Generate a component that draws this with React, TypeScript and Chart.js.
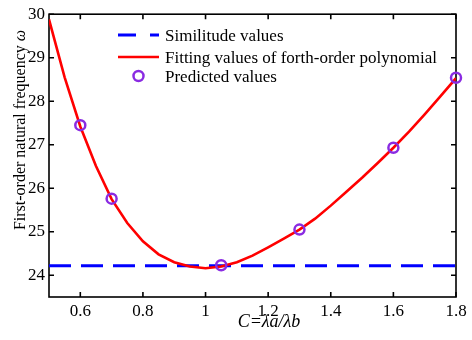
import React, { useEffect, useRef } from "react";
import { Chart, registerables } from "chart.js";

Chart.register(...registerables);

const fitX = [0.5, 0.55, 0.6, 0.65, 0.7, 0.75, 0.8, 0.85, 0.9, 0.95, 1.0, 1.05, 1.1, 1.15, 1.2, 1.25, 1.3, 1.35, 1.4, 1.45, 1.5, 1.55, 1.6, 1.65, 1.7, 1.75, 1.8];
const fitY = [29.88, 28.55, 27.42, 26.51, 25.75, 25.2, 24.78, 24.48, 24.3, 24.2, 24.16, 24.2, 24.3, 24.45, 24.64, 24.84, 25.05, 25.3, 25.6, 25.92, 26.24, 26.58, 26.93, 27.3, 27.7, 28.11, 28.53];
const predX = [0.6, 0.7, 1.05, 1.3, 1.6, 1.8];
const predY = [27.45, 25.76, 24.23, 25.05, 26.93, 28.54];
const simX = [0.5, 1.8];
const simY = [24.22, 24.22];
const xTicks = [0.6, 0.8, 1.0, 1.2, 1.4, 1.6, 1.8];
const yTicks = [24, 25, 26, 27, 28, 29, 30];
const legendLabels = ["Similitude values", "Fitting values of forth-order polynomial", "Predicted values"];
const xTitle = "C=λa/λb";
const yTitleMain = "First-order natural frequency ";
const yTitleSym = "ω";

const FONT = "'Liberation Serif', 'Times New Roman', serif";
const BLUE = "#0000ff";
const RED = "#ff0000";
const PURPLE = "#8a2be2";

const framePlugin = {
  id: "frame",
  beforeDatasetsDraw(chart: any) {
    const { ctx, chartArea } = chart;
    const xs = chart.scales.x;
    const ys = chart.scales.y;
    ctx.save();
    ctx.strokeStyle = "#000";
    ctx.lineWidth = 1.6;
    ctx.strokeRect(chartArea.left, chartArea.top, chartArea.right - chartArea.left, chartArea.bottom - chartArea.top);
    const tl = 5;
    ctx.beginPath();
    xTicks.forEach((v) => {
      const px = xs.getPixelForValue(v);
      ctx.moveTo(px, chartArea.bottom);
      ctx.lineTo(px, chartArea.bottom - tl);
      ctx.moveTo(px, chartArea.top);
      ctx.lineTo(px, chartArea.top + tl);
    });
    yTicks.forEach((v) => {
      const py = ys.getPixelForValue(v);
      ctx.moveTo(chartArea.left, py);
      ctx.lineTo(chartArea.left + tl, py);
      ctx.moveTo(chartArea.right, py);
      ctx.lineTo(chartArea.right - tl, py);
    });
    ctx.stroke();
    ctx.restore();
  },
};

const overlayPlugin = {
  id: "overlay",
  afterDraw(chart: any) {
    const { ctx } = chart;
    ctx.save();
    ctx.fillStyle = "#000";
    // x title
    ctx.font = `italic 18px ${FONT}`;
    ctx.textAlign = "center";
    ctx.textBaseline = "middle";
    ctx.fillText(xTitle, 269, 322);
    // y title
    ctx.translate(21, 130);
    ctx.rotate(-Math.PI / 2);
    ctx.font = `16px ${FONT}`;
    const w1 = ctx.measureText(yTitleMain).width;
    ctx.font = `italic 16px ${FONT}`;
    const w2 = ctx.measureText(yTitleSym).width;
    const start = -(w1 + w2) / 2;
    ctx.textAlign = "left";
    ctx.font = `16px ${FONT}`;
    ctx.fillText(yTitleMain, start, 0);
    ctx.font = `italic 16px ${FONT}`;
    ctx.fillText(yTitleSym, start + w1, 0);
    ctx.restore();

    // legend
    ctx.save();
    const lx0 = 118;
    const lx1 = 159;
    const tx = 165;
    const rows = [35, 57, 76];
    ctx.lineWidth = 3;
    ctx.strokeStyle = BLUE;
    ctx.setLineDash([18, 14]);
    ctx.beginPath();
    ctx.moveTo(lx0, rows[0]);
    ctx.lineTo(lx1, rows[0]);
    ctx.stroke();
    ctx.setLineDash([]);
    ctx.strokeStyle = RED;
    ctx.lineWidth = 2.6;
    ctx.beginPath();
    ctx.moveTo(lx0, rows[1]);
    ctx.lineTo(lx1, rows[1]);
    ctx.stroke();
    ctx.strokeStyle = PURPLE;
    ctx.lineWidth = 2.5;
    ctx.beginPath();
    ctx.arc((lx0 + lx1) / 2, rows[2], 5, 0, Math.PI * 2);
    ctx.stroke();
    ctx.fillStyle = "#000";
    ctx.font = `17px ${FONT}`;
    ctx.textAlign = "left";
    ctx.textBaseline = "middle";
    legendLabels.forEach((t, i) => ctx.fillText(t, tx, rows[i] + 1.5));
    ctx.restore();
  },
};

export default function App() {
  const ref = useRef<HTMLCanvasElement>(null);
  useEffect(() => {
    if (!ref.current) return;
    const chart = new Chart(ref.current, {
      type: "scatter",
      data: {
        datasets: [
          {
            label: legendLabels[2],
            data: predX.map((x, i) => ({ x, y: predY[i] })),
            showLine: false,
            pointRadius: 5,
            pointBorderWidth: 2.5,
            pointBorderColor: PURPLE,
            pointBackgroundColor: "rgba(0,0,0,0)",
            clip: false,
            order: 0,
          } as any,
          {
            label: legendLabels[1],
            data: fitX.map((x, i) => ({ x, y: fitY[i] })),
            showLine: true,
            borderColor: RED,
            borderWidth: 2.6,
            pointRadius: 0,
            tension: 0,
            order: 1,
          } as any,
          {
            label: legendLabels[0],
            data: simX.map((x, i) => ({ x, y: simY[i] })),
            showLine: true,
            borderColor: BLUE,
            borderWidth: 3,
            borderDash: [22, 10],
            pointRadius: 0,
            order: 2,
          } as any,
        ],
      },
      options: {
        responsive: false,
        animation: false,
        layout: { padding: { left: 0, right: 16, top: 12, bottom: 0 } },
        plugins: { legend: { display: false }, tooltip: { enabled: false } },
        scales: {
          x: {
            type: "linear",
            min: 0.5,
            max: 1.8,
            grid: { display: false, drawTicks: false },
            border: { display: false },
            afterBuildTicks: (s: any) => {
              s.ticks = xTicks.map((v) => ({ value: v }));
            },
            afterFit: (s: any) => {
              s.height = 43;
            },
            ticks: {
              color: "#000",
              padding: 4,
              maxRotation: 0,
              autoSkip: false,
              font: { family: FONT, size: 17 },
              callback: (v: any) => String(Number(Number(v).toFixed(1))),
            },
          },
          y: {
            type: "linear",
            min: 23.5,
            max: 30,
            grid: { display: false, drawTicks: false },
            border: { display: false },
            afterBuildTicks: (s: any) => {
              s.ticks = yTicks.map((v) => ({ value: v }));
            },
            afterFit: (s: any) => {
              s.width = 49;
            },
            ticks: {
              color: "#000",
              padding: 4,
              autoSkip: false,
              font: { family: FONT, size: 17 },
              callback: (v: any) => String(v),
            },
          },
        },
      },
      plugins: [framePlugin, overlayPlugin],
    });
    return () => chart.destroy();
  }, []);
  return (
    <div style={{ position: "fixed", left: 0, top: 0, width: 472, height: 340, background: "#fff" }}>
      <canvas ref={ref} width={472} height={340} />
    </div>
  );
}
